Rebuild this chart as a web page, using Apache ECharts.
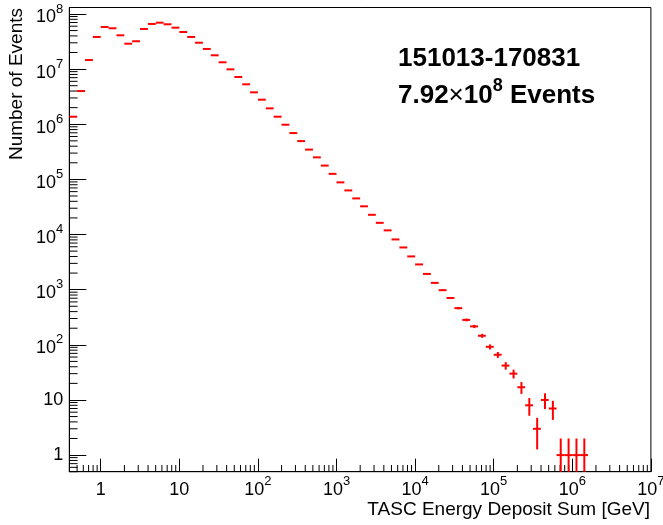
<!DOCTYPE html>
<html><head><meta charset="utf-8">
<script src="https://cdn.jsdelivr.net/npm/echarts@6/dist/echarts.min.js"></script>
<style>html,body{margin:0;padding:0;background:#fff}#c{width:663px;height:525px}</style>
</head><body><div id="c"></div>
<script>
// ---- data ----
const binsPerDecade = 10;          // log-uniform binning
const firstBinExp = -0.4;          // first bin starts at 10^-0.4 GeV
const counts = [
  1.37e6, 4.0e6, 1.46e7, 3.83e7,
  5.81e7, 5.5e7, 4.1e7, 2.89e7, 3.2e7, 5.35e7, 6.59e7, 6.95e7, 6.5e7, 5.64e7,
  4.71e7, 3.83e7, 3.01e7, 2.32e7, 1.78e7, 1.33e7, 9.9e6, 7.19e6, 5.3e6, 3.79e6,
  2.79e6, 1.94e6, 1.37e6, 9.8e5, 6.92e5, 4.95e5, 3.47e5, 2.51e5, 1.78e5, 1.26e5,
  8.83e4, 6.31e4, 4.52e4, 3.25e4, 2.28e4, 1.63e4, 1.19e4, 8150, 5830, 4010,
  2870, 1930, 1330, 979, 707, 462, 283, 216, 146, 92,
  66, 42, 30, 17, 8, 3, 10, 7, 1, 1,
  1, 1
];
const xRange = [Math.pow(10, -0.4), 1e7];
const yRange = [0.5, 1.31e8];
const minorMultipliers = [2, 3, 4, 5, 6, 7, 8, 9];
const xDecades = [-1, 0, 1, 2, 3, 4, 5, 6];
const yDecades = [-1, 0, 1, 2, 3, 4, 5, 6, 7, 8];
const xTitle = 'TASC Energy Deposit Sum [GeV]';
const yTitle = 'Number of Events';
const noteLine1 = '151013-170831';
const noteMantissa = '7.92';
const noteExponent = '8';
const noteUnit = 'Events';

// ---- build ----
const fontFam = "'Liberation Sans', Arial, Helvetica, sans-serif";
const histData = counts.map(function (n, i) {
  const lo = Math.pow(10, firstBinExp + i / binsPerDecade);
  const hi = Math.pow(10, firstBinExp + (i + 1) / binsPerDecade);
  return [lo, hi, (lo + hi) / 2, n];
});
const xMinor = [], yMinor = [];
xDecades.forEach(function (e) { minorMultipliers.forEach(function (m) {
  const v = m * Math.pow(10, e); if (v > xRange[0] && v < xRange[1]) xMinor.push([v, yRange[0]]); }); });
yDecades.forEach(function (e) { minorMultipliers.forEach(function (m) {
  const v = m * Math.pow(10, e); if (v >= yRange[0] && v < yRange[1]) yMinor.push([xRange[0], v]); }); });

function decadeLabel(v, plain) {
  const lg = Math.log10(v);
  const e = Math.round(lg);
  if (Math.abs(lg - e) > 1e-6) return '';
  if (e === 0) return '{' + plain + '|1}';
  if (e === 1) return '{' + plain + '|10}';
  return '{b|10}{s|' + e + '}';
}
const rich = {
  b: {fontFamily: fontFam, fontSize: 18, lineHeight: 18, verticalAlign: 'bottom', color: '#000'},
  s: {fontFamily: fontFam, fontSize: 13, lineHeight: 25, verticalAlign: 'top', padding: [1, 0, 0, 0], color: '#000'},
  p: {fontFamily: fontFam, fontSize: 18, lineHeight: 25, verticalAlign: 'bottom', color: '#000'},
  q: {fontFamily: fontFam, fontSize: 18, lineHeight: 18, color: '#000'}
};

const chart = echarts.init(document.getElementById('c'), null, {renderer: 'canvas'});
chart.setOption({
  animation: false,
  backgroundColor: '#fff',
  grid: {left: 69.3, right: 12.1, top: 7.5, bottom: 53.3, show: true, borderColor: '#000', borderWidth: 1,
         containLabel: false, outerBoundsMode: 'none'},
  xAxis: {
    type: 'log', logBase: 10, min: xRange[0], max: xRange[1],
    axisLine: {show: true, lineStyle: {color: '#000', width: 1}},
    axisTick: {show: true, inside: true, length: 13, lineStyle: {color: '#000', width: 1}},
    axisLabel: {margin: 2.3, formatter: function (v) { return decadeLabel(v, 'p'); }, rich: rich},
    splitLine: {show: false}
  },
  yAxis: {
    type: 'log', logBase: 10, min: yRange[0], max: yRange[1],
    axisLine: {show: true, lineStyle: {color: '#000', width: 1}},
    axisTick: {show: true, inside: true, length: 17, lineStyle: {color: '#000', width: 1}},
    axisLabel: {margin: 6, formatter: function (v) { return decadeLabel(v, 'q'); }, rich: rich},
    splitLine: {show: false}
  },
  series: [
    {
      type: 'custom', silent: true, data: xMinor, encode: {x: 0, y: 1},
      renderItem: function (params, api) {
        const p = api.coord([api.value(0), api.value(1)]);
        return {type: 'line', shape: {x1: p[0], y1: p[1], x2: p[0], y2: p[1] - 6.7},
                style: {stroke: '#000', lineWidth: 1}};
      }
    },
    {
      type: 'custom', silent: true, data: yMinor, encode: {x: 0, y: 1},
      renderItem: function (params, api) {
        const p = api.coord([api.value(0), api.value(1)]);
        return {type: 'line', shape: {x1: p[0], y1: p[1], x2: p[0] + 8.3, y2: p[1]},
                style: {stroke: '#000', lineWidth: 1}};
      }
    },
    {
      type: 'custom', silent: true, data: histData, encode: {x: [0, 1, 2], y: 3},
      renderItem: function (params, api) {
        const lo = api.value(0), hi = api.value(1), c = api.value(2), n = api.value(3);
        const err = Math.sqrt(n);
        const a = api.coord([lo, n]), b = api.coord([hi, n]);
        const e1 = api.coord([c, Math.max(n - err, yRange[0])]), e2 = api.coord([c, Math.min(n + err, yRange[1])]);
        return {type: 'group', children: [
          {type: 'line', shape: {x1: a[0], y1: a[1], x2: b[0], y2: b[1]}, style: {stroke: '#ff0000', lineWidth: 2}},
          {type: 'line', shape: {x1: e1[0], y1: e1[1], x2: e2[0], y2: e2[1]}, style: {stroke: '#ff0000', lineWidth: 2}}
        ]};
      }
    }
  ],
  graphic: [
    {type: 'text', x: 650, y: 510, silent: true,
     style: {text: xTitle, fontFamily: fontFam, fontSize: 19, fill: '#000', align: 'right', verticalAlign: 'middle'}},
    {type: 'text', x: 17, y: 8, rotation: Math.PI / 2, silent: true,
     style: {text: yTitle, fontFamily: fontFam, fontSize: 19, fill: '#000', align: 'right', verticalAlign: 'middle'}},
    {type: 'text', x: 398, y: 59, silent: true,
     style: {text: noteLine1, fontFamily: fontFam, fontSize: 26, fontWeight: 'bold', fill: '#000', align: 'left', verticalAlign: 'middle'}},
    {type: 'text', x: 398, y: 93.25, silent: true,
     style: {text: '{a|' + noteMantissa + '}{x|\u00d7}{a|10}{s|' + noteExponent + '}{a| ' + noteUnit + '}',
             align: 'left', verticalAlign: 'middle',
             rich: {
               a: {fontFamily: fontFam, fontSize: 26, fontWeight: 'bold', lineHeight: 26, verticalAlign: 'bottom', fill: '#000', color: '#000'},
               x: {fontFamily: fontFam, fontSize: 26, fontWeight: 'normal', lineHeight: 26, verticalAlign: 'bottom', fill: '#000', color: '#000'},
               s: {fontFamily: fontFam, fontSize: 18, fontWeight: 'bold', lineHeight: 31.5, verticalAlign: 'top', fill: '#000', color: '#000'}
             }}}
  ]
});
</script>
</body></html>
